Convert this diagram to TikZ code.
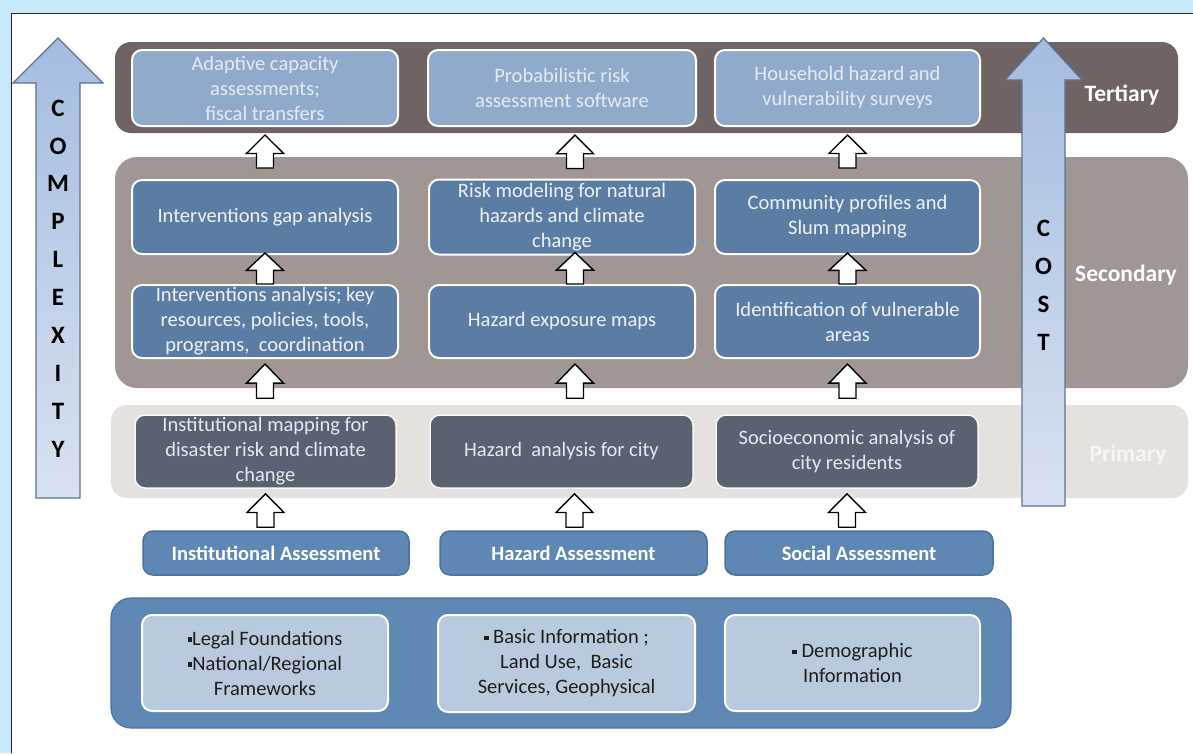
\documentclass[tikz,border=0pt]{standalone}
\usepackage{fontspec}
\setmainfont{Carlito}
\usetikzlibrary{calc}
\definecolor{bgblue}{HTML}{C7E9F9}
\definecolor{tband}{HTML}{6F6463}
\definecolor{sband}{HTML}{A09694}
\definecolor{pband}{HTML}{E5E1DF}
\definecolor{bband}{HTML}{6088B4}
\definecolor{bbandline}{HTML}{4D74A0}
\definecolor{tfill}{HTML}{8FAACB}
\definecolor{ttext}{HTML}{E5EBF4}
\definecolor{sfill}{HTML}{5B7CA3}
\definecolor{stext}{HTML}{EEF2F8}
\definecolor{pfill}{HTML}{5A6171}
\definecolor{ptext}{HTML}{E6E9EE}
\definecolor{afill}{HTML}{5F87B4}
\definecolor{aline}{HTML}{4B729E}
\definecolor{ifill}{HTML}{B9CADF}
\definecolor{itext}{HTML}{1E1E1E}
\definecolor{bigtop}{HTML}{A4BCE0}
\definecolor{bigbot}{HTML}{D8E2F2}
\definecolor{bigline}{HTML}{5D7191}
\definecolor{plabel}{HTML}{F7F6F5}
\newcommand{\sqb}{\raisebox{3.5pt}{\rule{4.5pt}{4.5pt}}}
\begin{document}
\begin{tikzpicture}[x=1pt,y=-1pt,
  boxbase/.style={rounded corners=10pt, inner sep=0pt, align=center,
    font=\fontsize{20.5}{25}\selectfont},
  tbox/.style={boxbase, fill=tfill, draw=white, line width=2pt, text=ttext},
  sbox/.style={boxbase, fill=sfill, draw=white, line width=2pt, text=stext},
  pbox/.style={boxbase, fill=pfill, draw=white!95!gray, line width=1.5pt, text=ptext},
  abox/.style={boxbase, fill=afill, draw=aline, line width=1.5pt, text=white,
    font=\fontsize{20.5}{25}\selectfont\bfseries},
  ibox/.style={boxbase, fill=ifill, draw=white, line width=2pt, text=itext},
  lbl/.style={font=\fontsize{23.5}{28}\selectfont\bfseries, inner sep=0pt},
  letters/.style={align=center, inner sep=0pt, text=black},
  bigarrow/.style={draw=bigline, line width=1.2pt, top color=bigtop, bottom color=bigbot},
  blk/.style={draw=black, line width=1.4pt, fill=white, line join=miter,
    to path={let \p1=(\tikztostart), \p2=(\tikztotarget), \n1={\y2-\y1} in
      (\x2-8.5pt,\y1) -- (\x2-8.5pt,\y1+0.44*\n1) -- (\x2-18.5pt,\y1+0.44*\n1)
      -- (\x2,\y2) -- (\x2+18.5pt,\y1+0.44*\n1) -- (\x2+8.5pt,\y1+0.44*\n1)
      -- (\x2+8.5pt,\y1) -- cycle}}
]
\useasboundingbox (0,0) rectangle (1193,753);
% background and frame
\fill[bgblue] (0,0) rectangle (1193,753);
\fill[white] (11,13) rectangle (1193,753);
\draw[black!85, line width=1pt] (11,753) -- (11,13) -- (1193,13);

% bands
\fill[tband, rounded corners=16pt] (115,42) rectangle (1178,133);
\fill[sband, rounded corners=22pt] (115,157) rectangle (1188,388);
\fill[pband, rounded corners=16pt] (111,405) rectangle (1188,498);
\filldraw[fill=bband, draw=bbandline, line width=1.2pt, rounded corners=20pt] (111,598) rectangle (1011,728);

% tertiary boxes
\node[tbox, minimum width=266pt, minimum height=76pt] (t1) at (265,88) {Adaptive capacity\\assessments;\\fiscal transfers};
\node[tbox, minimum width=268pt, minimum height=76pt] (t2) at (562,88) {Probabilistic risk\\assessment software};
\node[tbox, minimum width=265pt, minimum height=76pt] (t3) at (847.5,88) {Household hazard and\\vulnerability surveys};

% secondary boxes, upper row
\node[sbox, minimum width=266pt, minimum height=74pt] (s1) at (265,217) {Interventions gap analysis};
\node[sbox, minimum width=266pt, minimum height=75pt] (s2) at (562,217) {Risk modeling for natural\\hazards and climate\\change};
\node[sbox, minimum width=265pt, minimum height=74pt] (s3) at (847.5,217) {Community profiles and\\Slum mapping};

% secondary boxes, lower row
\node[sbox, minimum width=266pt, minimum height=73pt] (r1) at (265,321.5) {Interventions analysis; key\\resources, policies, tools,\\programs,~ coordination};
\node[sbox, minimum width=266pt, minimum height=73pt] (r2) at (562,321.5) {Hazard exposure maps};
\node[sbox, minimum width=265pt, minimum height=73pt] (r3) at (847.5,321.5) {Identification of vulnerable\\areas};

% primary boxes
\node[pbox, minimum width=261pt, minimum height=73pt] (p1) at (265.5,451.5) {Institutional mapping for\\disaster risk and climate\\change};
\node[pbox, minimum width=263pt, minimum height=73pt] (p2) at (561.5,451.5) {Hazard~ analysis for city};
\node[pbox, minimum width=262pt, minimum height=73pt] (p3) at (847,451.5) {Socioeconomic analysis of\\city residents};

% assessment boxes
\node[abox, minimum width=266pt, minimum height=44pt] (a1) at (276,553) {Institutional Assessment};
\node[abox, minimum width=267pt, minimum height=44pt] (a2) at (573.5,553) {Hazard Assessment};
\node[abox, minimum width=268pt, minimum height=44pt] (a3) at (859,553) {Social Assessment};

% information boxes
\node[ibox, minimum width=246pt, minimum height=96pt] (i1) at (265,663) {\sqb Legal Foundations\\\sqb National/Regional\\Frameworks};
\node[ibox, minimum width=257pt, minimum height=97pt] (i2) at (566.5,663.5) {\sqb\ Basic Information ;\\Land Use,~ Basic\\Services, Geophysical};
\node[ibox, minimum width=255pt, minimum height=96pt] (i3) at (852.5,663) {\sqb\ Demographic\\Information};

% level labels
\node[lbl, text=white] (lt) at (1122,95) {Tertiary};
\node[lbl, text=white] (ls) at (1126,275) {Secondary};
\node[lbl, text=plabel] (lp) at (1128,455) {Primary};

% complexity and cost arrows
\draw[bigarrow] (36,498) -- (36,83) -- (13,83) -- (58,38) -- (103,83) -- (80,83) -- (80,498) -- cycle;
\draw[bigarrow] (1022,506) -- (1022,80) -- (1005,80) -- (1043.5,38) -- (1082,80) -- (1065,80) -- (1065,506) -- cycle;
\node[letters, font=\fontsize{25}{37.9}\selectfont\bfseries] (cx) at (58,278.5) {C\\O\\M\\P\\L\\E\\X\\I\\T\\Y};
\node[letters, font=\fontsize{25}{38}\selectfont\bfseries] (co) at (1043.5,285) {C\\O\\S\\T};

% block arrows: assessment -> primary
\draw[blk] ([yshift=3pt]a1.north) to ([yshift=-5pt]p1.south);
\draw[blk] ([yshift=3pt]a2.north) to ([xshift=13pt,yshift=-5pt]p2.south);
\draw[blk] ([yshift=3pt]a3.north) to ([yshift=-5pt]p3.south);
% primary -> secondary lower row
\draw[blk] ([yshift=16pt]p1.north) to ([yshift=-5pt]r1.south);
\draw[blk] ([yshift=16pt]p2.north) to ([xshift=13pt,yshift=-5pt]r2.south);
\draw[blk] ([yshift=16pt]p3.north) to ([yshift=-5pt]r3.south);
% lower row -> upper row
\draw[blk] (r1.north) to ([yshift=2pt]s1.south);
\draw[blk] (r2.north) to ([xshift=13pt,yshift=3pt]s2.south);
\draw[blk] (r3.north) to ([yshift=2pt]s3.south);
% secondary -> tertiary
\draw[blk] ([yshift=11pt]s1.north) to ([yshift=-8pt]t1.south);
\draw[blk] ([yshift=10pt]s2.north) to ([xshift=13pt,yshift=-8pt]t2.south);
\draw[blk] ([yshift=11pt]s3.north) to ([yshift=-8pt]t3.south);
\end{tikzpicture}
\end{document}
